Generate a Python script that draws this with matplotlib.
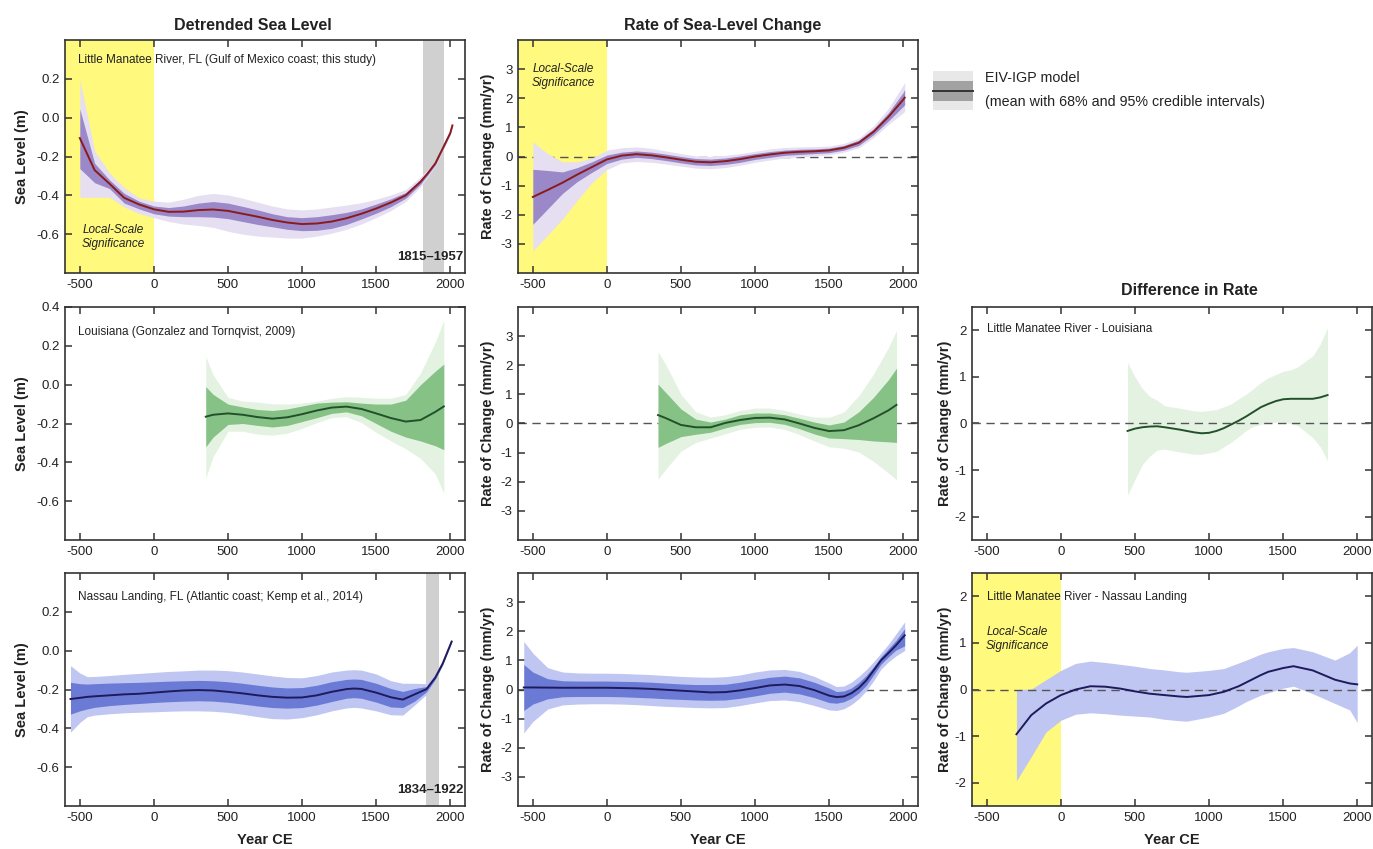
import numpy as np
import matplotlib.pyplot as plt
from matplotlib.patches import Rectangle
from matplotlib.lines import Line2D

plt.rcParams['font.family'] = ['Noto Sans Condensed', 'Liberation Sans Narrow', 'DejaVu Sans Condensed', 'Liberation Sans']
plt.rcParams['axes.unicode_minus'] = False

# ---------------- data ----------------
# Little Manatee River, detrended sea level (m)
lmr_sl_year = [-500, -400, -300, -200, -100, 0, 100, 200, 300, 400, 500, 600, 700, 800, 900,
               1000, 1100, 1200, 1300, 1400, 1500, 1600, 1700, 1800, 1850, 1900, 1950, 2000, 2015]
lmr_sl_mean = [-0.105, -0.27, -0.34, -0.413, -0.447, -0.472, -0.485, -0.484, -0.476, -0.473, -0.48, -0.495, -0.51, -0.527, -0.54,
               -0.548, -0.545, -0.535, -0.518, -0.495, -0.468, -0.437, -0.4, -0.33, -0.285, -0.235, -0.158, -0.08, -0.04]
lmr_sl_hi68 = [0.045, -0.235, -0.32, -0.39, -0.43, -0.455, -0.463, -0.455, -0.44, -0.432, -0.44, -0.457, -0.475, -0.495, -0.51,
               -0.515, -0.51, -0.5, -0.488, -0.47, -0.445, -0.418, -0.385, -0.318, -0.276, -0.227, -0.152, -0.075, -0.036]
lmr_sl_lo68 = [-0.262, -0.335, -0.365, -0.44, -0.47, -0.495, -0.507, -0.51, -0.51, -0.512, -0.52, -0.535, -0.55, -0.562, -0.575,
               -0.582, -0.58, -0.57, -0.55, -0.522, -0.492, -0.458, -0.415, -0.342, -0.294, -0.243, -0.164, -0.085, -0.044]
lmr_sl_hi95 = [0.197, -0.17, -0.285, -0.36, -0.413, -0.43, -0.435, -0.42, -0.4, -0.39, -0.398, -0.415, -0.435, -0.455, -0.47,
               -0.475, -0.47, -0.46, -0.45, -0.438, -0.42, -0.398, -0.37, -0.305, -0.266, -0.22, -0.146, -0.07, -0.032]
lmr_sl_lo95 = [-0.41, -0.41, -0.41, -0.46, -0.494, -0.515, -0.535, -0.548, -0.555, -0.565, -0.585, -0.6, -0.61, -0.615, -0.62,
               -0.62, -0.61, -0.595, -0.575, -0.548, -0.515, -0.478, -0.432, -0.355, -0.304, -0.25, -0.17, -0.09, -0.048]

# Little Manatee River, rate (mm/yr)
lmr_rt_year = [-500, -400, -300, -200, -100, 0, 100, 200, 300, 400, 500, 600, 700, 800, 900,
               1000, 1100, 1200, 1300, 1400, 1500, 1600, 1700, 1800, 1900, 2000, 2010]
lmr_rt_mean = [-1.39, -1.15, -0.9, -0.62, -0.36, -0.1, 0.03, 0.08, 0.04, -0.03, -0.11, -0.18, -0.2, -0.16, -0.09,
               0.0, 0.07, 0.13, 0.16, 0.18, 0.21, 0.3, 0.47, 0.85, 1.36, 1.95, 2.02]
lmr_rt_hi68 = [-0.44, -0.48, -0.53, -0.38, -0.18, 0.05, 0.15, 0.19, 0.15, 0.08, 0.0, -0.07, -0.09, -0.05, 0.02,
               0.1, 0.17, 0.22, 0.25, 0.26, 0.29, 0.38, 0.56, 0.95, 1.5, 2.2, 2.3]
lmr_rt_lo68 = [-2.33, -1.8, -1.27, -0.86, -0.54, -0.24, -0.09, -0.03, -0.07, -0.14, -0.22, -0.29, -0.31, -0.27, -0.2,
               -0.1, -0.03, 0.04, 0.07, 0.1, 0.13, 0.22, 0.38, 0.75, 1.22, 1.72, 1.78]
lmr_rt_hi95 = [0.5, 0.1, -0.18, -0.18, -0.05, 0.22, 0.3, 0.33, 0.28, 0.19, 0.1, 0.02, 0.0, 0.04, 0.1,
               0.18, 0.26, 0.31, 0.33, 0.34, 0.36, 0.45, 0.63, 1.05, 1.65, 2.45, 2.55]
lmr_rt_lo95 = [-3.24, -2.7, -2.15, -1.5, -0.9, -0.45, -0.22, -0.17, -0.2, -0.26, -0.33, -0.4, -0.42, -0.38, -0.3,
               -0.2, -0.12, -0.05, -0.01, 0.02, 0.06, 0.15, 0.3, 0.65, 1.1, 1.5, 1.55]

# Louisiana, sea level (m)
la_sl_year = [350, 400, 500, 600, 700, 800, 900, 1000, 1100, 1200, 1300, 1400, 1500, 1600, 1700, 1800, 1900, 1957]
la_sl_mean = [-0.165, -0.155, -0.148, -0.155, -0.167, -0.175, -0.168, -0.152, -0.133, -0.118, -0.113, -0.125, -0.148, -0.172, -0.19, -0.182, -0.14, -0.112]
la_sl_hi68 = [-0.01, -0.05, -0.1, -0.115, -0.128, -0.133, -0.125, -0.11, -0.095, -0.09, -0.088, -0.095, -0.1, -0.1, -0.08, 0.0, 0.07, 0.106]
la_sl_lo68 = [-0.32, -0.27, -0.205, -0.2, -0.21, -0.218, -0.21, -0.19, -0.17, -0.148, -0.14, -0.16, -0.2, -0.24, -0.27, -0.29, -0.315, -0.335]
la_sl_hi95 = [0.145, 0.05, -0.065, -0.085, -0.09, -0.098, -0.1, -0.095, -0.085, -0.07, -0.062, -0.065, -0.07, -0.07, -0.05, 0.06, 0.22, 0.33]
la_sl_lo95 = [-0.48, -0.37, -0.24, -0.24, -0.255, -0.26, -0.25, -0.225, -0.195, -0.17, -0.165, -0.195, -0.245, -0.29, -0.33, -0.38, -0.46, -0.56]

# Louisiana, rate (mm/yr)
la_rt_year = [345, 400, 500, 600, 700, 800, 900, 1000, 1100, 1200, 1300, 1400, 1500, 1600, 1700, 1800, 1900, 1955]
la_rt_mean = [0.29, 0.18, -0.05, -0.13, -0.13, 0.02, 0.12, 0.19, 0.2, 0.14, 0.0, -0.15, -0.26, -0.23, -0.06, 0.18, 0.45, 0.64]
la_rt_hi68 = [1.35, 1.05, 0.5, 0.15, 0.05, 0.15, 0.3, 0.36, 0.36, 0.3, 0.18, 0.05, -0.05, 0.05, 0.4, 0.9, 1.5, 1.9]
la_rt_lo68 = [-0.82, -0.68, -0.45, -0.37, -0.3, -0.15, -0.03, 0.03, 0.04, -0.03, -0.18, -0.36, -0.5, -0.52, -0.55, -0.6, -0.63, -0.65]
la_rt_hi95 = [2.46, 2.0, 1.0, 0.4, 0.22, 0.3, 0.45, 0.53, 0.53, 0.45, 0.32, 0.22, 0.21, 0.4, 0.95, 1.7, 2.6, 3.2]
la_rt_lo95 = [-1.91, -1.55, -0.95, -0.65, -0.5, -0.35, -0.2, -0.13, -0.12, -0.2, -0.38, -0.6, -0.8, -0.85, -0.98, -1.3, -1.7, -1.93]

# Difference in rate, Little Manatee River - Louisiana (mm/yr)
d_la_year = [450, 500, 550, 600, 650, 700, 800, 900, 950, 1000, 1050, 1100, 1150, 1200, 1250,
             1300, 1350, 1400, 1450, 1500, 1550, 1600, 1700, 1750, 1800]
d_la_mean = [-0.16, -0.11, -0.08, -0.065, -0.06, -0.08, -0.13, -0.19, -0.21, -0.2, -0.16, -0.1, -0.02, 0.06, 0.15,
             0.25, 0.35, 0.42, 0.48, 0.52, 0.53, 0.53, 0.53, 0.56, 0.61]
d_la_hi95 = [1.31, 1.0, 0.75, 0.58, 0.5, 0.38, 0.33, 0.27, 0.26, 0.28, 0.3, 0.36, 0.42, 0.53, 0.63,
             0.75, 0.88, 0.98, 1.05, 1.12, 1.15, 1.22, 1.45, 1.7, 2.06]
d_la_lo95 = [-1.54, -1.2, -0.88, -0.7, -0.57, -0.55, -0.61, -0.66, -0.66, -0.63, -0.6, -0.5, -0.4, -0.28, -0.15,
             -0.06, -0.02, 0.01, 0.03, 0.03, 0.0, -0.05, -0.3, -0.5, -0.8]

# Nassau Landing, sea level (m)
nl_sl_year = [-563, -500, -450, -400, -300, -200, -100, 0, 100, 200, 300, 400, 500, 600, 700, 800, 900,
              1000, 1100, 1200, 1300, 1350, 1400, 1500, 1600, 1680, 1760, 1840, 1900, 1950, 2010]
nl_sl_mean = [-0.249, -0.243, -0.238, -0.235, -0.23, -0.225, -0.222, -0.216, -0.21, -0.205, -0.203, -0.205, -0.212, -0.22, -0.23, -0.238, -0.242,
              -0.241, -0.23, -0.212, -0.198, -0.195, -0.197, -0.216, -0.24, -0.252, -0.225, -0.198, -0.138, -0.065, 0.047]
nl_sl_hi68 = [-0.163, -0.17, -0.172, -0.17, -0.167, -0.165, -0.163, -0.16, -0.157, -0.155, -0.153, -0.155, -0.16, -0.168, -0.178, -0.187, -0.192,
              -0.19, -0.178, -0.16, -0.148, -0.146, -0.148, -0.168, -0.195, -0.21, -0.195, -0.185, -0.13, -0.06, 0.05]
nl_sl_lo68 = [-0.327, -0.31, -0.3, -0.292, -0.283, -0.277, -0.272, -0.267, -0.263, -0.26, -0.258, -0.26, -0.266, -0.275, -0.285, -0.293, -0.296,
              -0.293, -0.28, -0.262, -0.245, -0.242, -0.245, -0.265, -0.29, -0.293, -0.26, -0.212, -0.146, -0.07, 0.044]
nl_sl_hi95 = [-0.077, -0.115, -0.134, -0.133, -0.128, -0.122, -0.117, -0.112, -0.107, -0.104, -0.1, -0.1, -0.103, -0.11, -0.12, -0.13, -0.138,
              -0.14, -0.128, -0.11, -0.1, -0.098, -0.1, -0.12, -0.155, -0.168, -0.168, -0.17, -0.12, -0.055, 0.052]
nl_sl_lo95 = [-0.42, -0.37, -0.34, -0.332, -0.325, -0.32, -0.317, -0.315, -0.312, -0.31, -0.31, -0.312, -0.318, -0.328, -0.34, -0.35, -0.352,
              -0.345, -0.33, -0.31, -0.295, -0.292, -0.295, -0.31, -0.33, -0.332, -0.28, -0.225, -0.148, -0.075, 0.042]

# Nassau Landing, rate (mm/yr)
nl_rt_year = [-561, -500, -400, -300, -200, -100, 0, 100, 200, 300, 400, 500, 600, 700, 800, 900,
              1000, 1100, 1200, 1300, 1400, 1500, 1550, 1600, 1650, 1700, 1750, 1800, 1850, 1900, 1950, 2010]
nl_rt_mean = [0.07, 0.07, 0.065, 0.06, 0.06, 0.06, 0.06, 0.05, 0.04, 0.02, -0.01, -0.04, -0.07, -0.1, -0.09, -0.03,
              0.05, 0.14, 0.17, 0.12, -0.02, -0.21, -0.26, -0.24, -0.13, 0.05, 0.31, 0.65, 1.0, 1.25, 1.51, 1.86]
nl_rt_hi68 = [0.86, 0.6, 0.37, 0.3, 0.29, 0.29, 0.29, 0.28, 0.27, 0.25, 0.22, 0.19, 0.17, 0.17, 0.18, 0.25,
              0.34, 0.42, 0.46, 0.4, 0.25, 0.05, -0.07, -0.05, 0.05, 0.24, 0.48, 0.78, 1.12, 1.4, 1.68, 2.09]
nl_rt_lo68 = [-0.72, -0.5, -0.32, -0.25, -0.24, -0.24, -0.24, -0.25, -0.27, -0.29, -0.32, -0.34, -0.36, -0.37, -0.36, -0.3,
              -0.22, -0.13, -0.09, -0.15, -0.28, -0.45, -0.47, -0.42, -0.3, -0.12, 0.14, 0.5, 0.87, 1.12, 1.35, 1.5]
nl_rt_hi95 = [1.65, 1.25, 0.75, 0.6, 0.57, 0.56, 0.56, 0.55, 0.53, 0.51, 0.48, 0.45, 0.43, 0.42, 0.44, 0.5,
              0.6, 0.67, 0.69, 0.62, 0.45, 0.22, 0.1, 0.12, 0.25, 0.45, 0.68, 0.95, 1.25, 1.55, 1.9, 2.32]
nl_rt_lo95 = [-1.49, -1.1, -0.67, -0.53, -0.5, -0.49, -0.49, -0.5, -0.52, -0.55, -0.58, -0.6, -0.62, -0.63, -0.62, -0.55,
              -0.46, -0.38, -0.36, -0.42, -0.55, -0.7, -0.72, -0.66, -0.52, -0.32, -0.05, 0.3, 0.7, 0.95, 1.15, 1.34]

# Difference in rate, Little Manatee River - Nassau Landing (mm/yr)
d_nl_year = [-300, -200, -100, 0, 100, 200, 300, 400, 500, 600, 700, 800, 850, 1000, 1100, 1200,
             1250, 1350, 1400, 1500, 1570, 1700, 1850, 1950, 2000]
d_nl_mean = [-0.96, -0.55, -0.3, -0.12, 0.0, 0.07, 0.06, 0.02, -0.04, -0.09, -0.12, -0.15, -0.16, -0.12, -0.05, 0.07,
             0.15, 0.31, 0.38, 0.46, 0.5, 0.41, 0.21, 0.13, 0.11]
d_nl_hi95 = [0.0, 0.01, 0.21, 0.41, 0.56, 0.61, 0.58, 0.54, 0.5, 0.45, 0.42, 0.38, 0.37, 0.41, 0.45, 0.57,
             0.63, 0.76, 0.81, 0.88, 0.9, 0.81, 0.63, 0.79, 0.95]
d_nl_lo95 = [-1.96, -1.44, -0.91, -0.66, -0.53, -0.5, -0.52, -0.55, -0.57, -0.59, -0.64, -0.67, -0.68, -0.59, -0.51, -0.35,
             -0.26, -0.12, -0.07, 0.03, 0.07, -0.09, -0.3, -0.44, -0.71]

# ---------------- styles ----------------
W, H = 1373, 849
YELLOW = '#fff97d'
GRAY_BAND = '#d0d0d0'
PURPLE = ('#e6dff2', '#9a88c9', '#8b1a1a')
GREEN = ('#e4f2e2', '#86c286', '#23502a')
BLUE = ('#bfc6f1', '#6b7bd5', '#1e1a5c')
TXT = '#222222'

FS_TICK = 9.5
FS_YLAB = 10.5
FS_TITLE = 11.5
FS_NOTE = 8.5
FS_SIG = 8.5
FS_YEARS = 9.5
FS_LEG = 10.3

fig = plt.figure(figsize=(W / 100, H / 100), dpi=100)


def px_axes(x0, y0, w=400, h=233):
    return fig.add_axes([x0 / W, 1 - (y0 + h) / H, w / W, h / H])


def style(ax, ylim, yticks, fmt):
    ax.set_xlim(-600, 2100)
    ax.set_ylim(*ylim)
    ax.set_xticks([-500, 0, 500, 1000, 1500, 2000])
    ax.set_yticks(yticks)
    ax.set_yticklabels([fmt % v for v in yticks])
    ax.tick_params(direction='in', top=True, right=True, length=5, width=1.1,
                   labelsize=FS_TICK, colors='#333333', labelcolor=TXT, pad=4)
    for s in ax.spines.values():
        s.set_color('#333333')
        s.set_linewidth(1.2)


def bands(ax, x, mean, lo95, hi95, cols, lo68=None, hi68=None):
    ax.fill_between(x, lo95, hi95, color=cols[0], lw=0, zorder=2)
    if lo68 is not None:
        ax.fill_between(x, lo68, hi68, color=cols[1], lw=0, zorder=3)
    ax.plot(x, mean, color=cols[2], lw=1.4, zorder=5)


def zero_line(ax, z):
    ax.axhline(0, color='#555555', lw=1.0, ls=(0, (6, 4)), zorder=z)


def ylab(ax, s, x):
    ax.set_ylabel(s, fontsize=FS_YLAB, fontweight='bold', color=TXT)
    ax.yaxis.set_label_coords(x, 0.5)


def xlab(ax):
    ax.set_xlabel('Year CE', fontsize=FS_YLAB, fontweight='bold', color=TXT)
    ax.xaxis.set_label_coords(0.5, -0.115)


def local_sig(x, y):
    fig.text(x / W, 1 - y / H, 'Local-Scale\nSignificance', ha='center', va='center',
             style='italic', fontsize=FS_SIG, color=TXT, linespacing=1.15)


def label(x, y, s):
    fig.text(x / W, 1 - y / H, s, va='center', fontsize=FS_NOTE, color=TXT)


cols_x = [65, 518, 972]
rows_y = [40, 307, 573]
sl_ticks = [-0.6, -0.4, -0.2, 0.0, 0.2]
rt_ticks = [-3, -2, -1, 0, 1, 2, 3]
df_ticks = [-2, -1, 0, 1, 2]

# --- row 1 ---
ax = px_axes(cols_x[0], rows_y[0])
ax.axvspan(-600, 0, color=YELLOW, lw=0, zorder=1)
ax.axvspan(1815, 1957, color=GRAY_BAND, lw=0, zorder=1)
bands(ax, lmr_sl_year, lmr_sl_mean, lmr_sl_lo95, lmr_sl_hi95, PURPLE, lmr_sl_lo68, lmr_sl_hi68)
style(ax, (-0.8, 0.4), sl_ticks, '%.1f')
ylab(ax, 'Sea Level (m)', -0.09)
ax.text(0.995, 0.07, '1815–1957', transform=ax.transAxes, ha='right', va='center',
        fontsize=FS_YEARS, fontweight='bold', color=TXT, zorder=6)

ax = px_axes(cols_x[1], rows_y[0])
ax.axvspan(-600, 0, color=YELLOW, lw=0, zorder=1)
zero_line(ax, 1.5)
bands(ax, lmr_rt_year, lmr_rt_mean, lmr_rt_lo95, lmr_rt_hi95, PURPLE, lmr_rt_lo68, lmr_rt_hi68)
style(ax, (-4, 4), rt_ticks, '%d')
ylab(ax, 'Rate of Change (mm/yr)', -0.058)

# --- row 2 ---
ax = px_axes(cols_x[0], rows_y[1])
bands(ax, la_sl_year, la_sl_mean, la_sl_lo95, la_sl_hi95, GREEN, la_sl_lo68, la_sl_hi68)
style(ax, (-0.8, 0.4), sl_ticks + [0.4], '%.1f')
ylab(ax, 'Sea Level (m)', -0.09)

ax = px_axes(cols_x[1], rows_y[1])
zero_line(ax, 1.5)
bands(ax, la_rt_year, la_rt_mean, la_rt_lo95, la_rt_hi95, GREEN, la_rt_lo68, la_rt_hi68)
style(ax, (-4, 4), rt_ticks, '%d')
ylab(ax, 'Rate of Change (mm/yr)', -0.058)

ax = px_axes(cols_x[2], rows_y[1])
bands(ax, d_la_year, d_la_mean, d_la_lo95, d_la_hi95, GREEN)
zero_line(ax, 4)
style(ax, (-2.5, 2.5), df_ticks, '%d')
ylab(ax, 'Rate of Change (mm/yr)', -0.05)

# --- row 3 ---
ax = px_axes(cols_x[0], rows_y[2])
ax.axvspan(1834, 1922, color=GRAY_BAND, lw=0, zorder=1)
bands(ax, nl_sl_year, nl_sl_mean, nl_sl_lo95, nl_sl_hi95, BLUE, nl_sl_lo68, nl_sl_hi68)
style(ax, (-0.8, 0.4), sl_ticks, '%.1f')
ylab(ax, 'Sea Level (m)', -0.09)
xlab(ax)
ax.text(0.995, 0.07, '1834–1922', transform=ax.transAxes, ha='right', va='center',
        fontsize=FS_YEARS, fontweight='bold', color=TXT, zorder=6)

ax = px_axes(cols_x[1], rows_y[2])
zero_line(ax, 1.5)
bands(ax, nl_rt_year, nl_rt_mean, nl_rt_lo95, nl_rt_hi95, BLUE, nl_rt_lo68, nl_rt_hi68)
style(ax, (-4, 4), rt_ticks, '%d')
ylab(ax, 'Rate of Change (mm/yr)', -0.058)
xlab(ax)

ax = px_axes(cols_x[2], rows_y[2])
ax.axvspan(-600, 0, color=YELLOW, lw=0, zorder=1)
bands(ax, d_nl_year, d_nl_mean, d_nl_lo95, d_nl_hi95, BLUE)
zero_line(ax, 4)
style(ax, (-2.5, 2.5), df_ticks, '%d')
ylab(ax, 'Rate of Change (mm/yr)', -0.05)
xlab(ax)

# ---------------- titles and labels ----------------
for x, s in [(253, 'Detrended Sea Level'), (723, 'Rate of Sea-Level Change')]:
    fig.text(x / W, 1 - 30 / H, s, ha='center', va='baseline', fontsize=FS_TITLE, fontweight='bold', color=TXT)
fig.text(1189 / W, 1 - 295 / H, 'Difference in Rate', ha='center', va='baseline',
         fontsize=FS_TITLE, fontweight='bold', color=TXT)

label(78, 60, 'Little Manatee River, FL (Gulf of Mexico coast; this study)')
label(78, 332, 'Louisiana (Gonzalez and Tornqvist, 2009)')
label(78, 597, 'Nassau Landing, FL (Atlantic coast; Kemp et al., 2014)')
label(987, 329, 'Little Manatee River - Louisiana')
label(987, 597, 'Little Manatee River - Nassau Landing')

local_sig(113, 237)
local_sig(563, 76)
local_sig(1017, 639)

# legend
fig.add_artist(Rectangle((933 / W, 1 - 110 / H), 40 / W, 39 / H, transform=fig.transFigure,
                         color='#e8e8e8', lw=0))
fig.add_artist(Rectangle((933 / W, 1 - 101 / H), 40 / W, 20 / H, transform=fig.transFigure,
                         color='#a2a2a2', lw=0))
fig.add_artist(Line2D([933 / W, 973 / W], [1 - 91 / H, 1 - 91 / H], transform=fig.transFigure,
                      color='#333333', lw=1.4))
fig.text(985 / W, 1 - 78 / H, 'EIV-IGP model', va='center', fontsize=FS_LEG, color=TXT)
fig.text(985 / W, 1 - 102 / H, '(mean with 68% and 95% credible intervals)', va='center',
         fontsize=FS_LEG, color=TXT)

fig.savefig('out.png', dpi=100)
